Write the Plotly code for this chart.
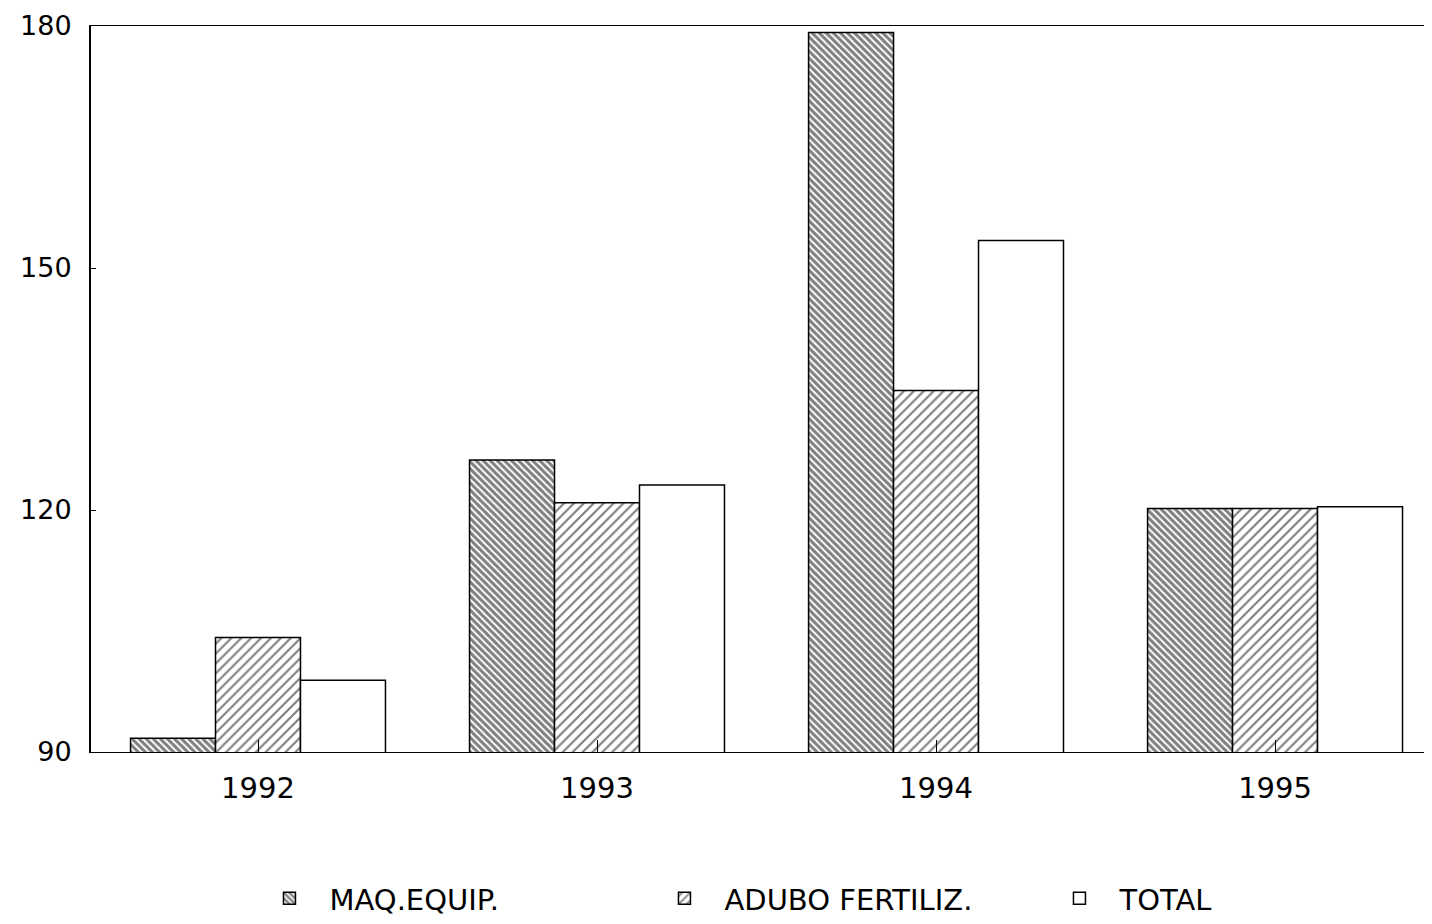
import plotly.graph_objects as go

years = ["1992", "1993", "1994", "1995"]
maq_equip = [91.7, 126.2, 179.2, 120.2]
adubo_fertiliz = [104.2, 120.9, 134.8, 120.2]
total = [98.9, 123.1, 153.4, 120.4]
y_ticks = [90, 120, 150, 180]

font_family = "DejaVu Sans, Liberation Sans, sans-serif"

fig = go.Figure()
fig.add_trace(go.Bar(
    x=years, y=maq_equip, name="MAQ.EQUIP.",
    marker=dict(color="white", line=dict(color="black", width=1.5),
                pattern=dict(shape="\\", size=5, solidity=0.6, fgcolor="black", bgcolor="white")),
))
fig.add_trace(go.Bar(
    x=years, y=adubo_fertiliz, name="ADUBO FERTILIZ.",
    marker=dict(color="white", line=dict(color="black", width=1.5),
                pattern=dict(shape="/", size=7, solidity=0.3, fgcolor="black", bgcolor="white")),
))
fig.add_trace(go.Bar(
    x=years, y=total, name="TOTAL",
    marker=dict(color="white", line=dict(color="black", width=1.5)),
))

fig.update_layout(
    width=1424, height=916,
    barmode="group", bargap=0.248, bargroupgap=0,
    plot_bgcolor="white", paper_bgcolor="white",
    margin=dict(l=83, r=0, t=18, b=172, autoexpand=False),
    font=dict(family=font_family, size=29, color="black"),
    showlegend=True,
    legend=dict(orientation="h", x=0.56, xanchor="center",
                yref="container", y=0.0, yanchor="bottom",
                font=dict(size=29), itemwidth=70, traceorder="normal",
                entrywidth=310, bgcolor="rgba(0,0,0,0)"),
    xaxis=dict(
        range=[-0.4926, 3.463], showline=True, linecolor="black", linewidth=1,
        mirror=True, ticks="inside", ticklen=12, tickcolor="black",
        showgrid=False, zeroline=False, tickfont=dict(size=29),
        ticklabelstandoff=10, automargin=False,
    ),
    yaxis=dict(
        range=[90, 180], tickvals=y_ticks, showline=True, linecolor="black",
        linewidth=2, ticks="inside", ticklen=5, tickcolor="black",
        showgrid=False, zeroline=False, tickfont=dict(size=27),
        ticklabelstandoff=12, ticklabeloverflow="allow", automargin=False,
    ),
)

fig.write_html("out.html")
